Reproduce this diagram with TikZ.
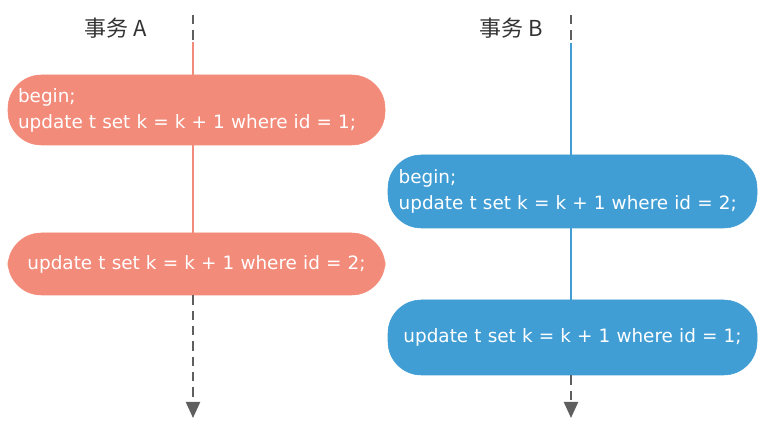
\documentclass[tikz,border=0pt]{standalone}
\usepackage{fontspec}
\setmainfont{DejaVu Sans}
\newfontfamily\cjkfont{Noto Sans CJK SC}
\usetikzlibrary{arrows.meta}
\definecolor{txA}{RGB}{243,139,122}
\definecolor{txB}{RGB}{65,158,213}
\definecolor{lineGray}{RGB}{95,95,95}
\tikzset{
	txBox/.style={
		rounded corners=25pt,
		inner xsep=7.5pt,
		text = white,
		font=\fontsize{13.8}{19.5}\selectfont
	},
	txAColor/.style={
		txBox,
		fill=txA,
		draw=txA
	},
	txBColor/.style={
		txBox,
		fill=txB,
		draw=txB
	},
	txLabel/.style={
		text = black!80,
		font=\cjkfont\fontsize{16.5}{20}\selectfont
	},
	timeDashed/.style={
		draw=lineGray,
		line width=1.6pt,
		dash pattern=on 7pt off 4.5pt
	},
	timeArrow/.style={
		timeDashed,
		-{Triangle[width=10.5pt,length=12pt]}
	},
}
\begin{document}
\begin{tikzpicture}[x=0.75pt,y=-0.75pt]
\useasboundingbox (0,0) rectangle (767,423);
% Transaction A
\node[txLabel] (labA) at (116,28) {事务\ A};
\coordinate (topA) at (193,15);
\coordinate (midA) at (193,42);
\coordinate (endA) at (193,418);
\node[txAColor, minimum width=282.75pt, minimum height=52.5pt, text width=267.75pt, align=left] (a1) at (196.5,110) {begin;\\update t set k = k + 1 where id = 1;};
\node[txAColor, minimum width=282.75pt, minimum height=46.5pt, text width=267.75pt, align=center] (a2) at (196.5,264) {update t set k = k + 1 where id = 2;};
\draw[timeDashed] (topA) -- (midA);
\draw[txA, line width=1.6pt] (midA) -- (midA |- a1.north);
\draw[txA, line width=1.6pt] (midA |- a1.south) -- (midA |- a2.north);
\draw[timeArrow] (midA |- a2.south) -- (endA);
% Transaction B
\node[txLabel] (labB) at (511,28) {事务\ B};
\coordinate (topB) at (571,15);
\coordinate (midB) at (571,43);
\coordinate (endB) at (571,418);
\node[txBColor, minimum width=276.75pt, minimum height=54.75pt, text width=260.75pt, align=left, inner xsep=8pt] (b1) at (572.5,191.5) {begin;\\update t set k = k + 1 where id = 2;};
\node[txBColor, minimum width=276.75pt, minimum height=56.25pt, text width=260.75pt, align=center, inner xsep=8pt] (b2) at (572.5,337.5) {update t set k = k + 1 where id = 1;};
\draw[timeDashed] (topB) -- (midB);
\draw[txB, line width=1.6pt] (midB) -- (midB |- b1.north);
\draw[txB, line width=1.6pt] (midB |- b1.south) -- (midB |- b2.north);
\draw[timeArrow] (midB |- b2.south) -- (endB);
\end{tikzpicture}
\end{document}
